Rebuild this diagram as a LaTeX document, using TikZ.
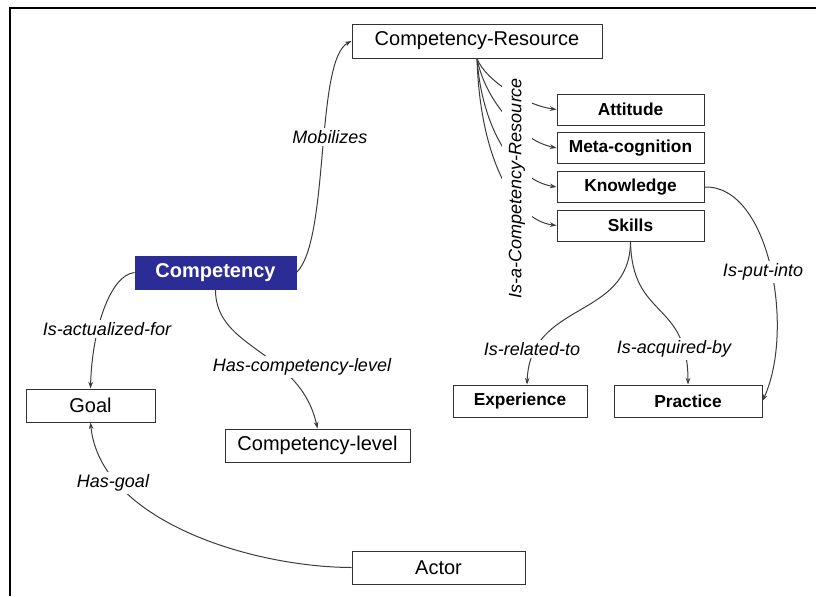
\documentclass[tikz,border=0pt]{standalone}
\usepackage{fontspec}
\setmainfont{Liberation Sans}
\usetikzlibrary{arrows.meta}
\definecolor{compblue}{RGB}{44,44,150}
\definecolor{edgegray}{RGB}{60,60,60}
\begin{document}
\begin{tikzpicture}[x=0.75pt,y=-0.75pt,
  box/.style={draw=black!80, line width=0.75pt, fill=white, inner sep=0pt, minimum height=24.75pt, font=\fontsize{15}{18}\selectfont},
  bbox/.style={box, minimum width=110.25pt, minimum height=23.25pt, font=\fontsize{13}{16}\selectfont\bfseries},
  lbl/.style={fill=white, inner sep=2pt, font=\fontsize{13.5}{16}\selectfont\itshape},
  conn/.style={draw=edgegray, line width=0.75pt, -{Stealth[length=5pt,width=3.5pt]}},
  plain/.style={draw=edgegray, line width=0.75pt}]
\useasboundingbox (0,0) rectangle (816,596);
\draw[line width=1.5pt] (10,596) -- (10,8) -- (816,8);

% nodes
\node[box, minimum width=187.5pt, minimum height=25.5pt] (cr) at (477,41) {Competency-Resource};
\node[bbox] (att) at (630.5,109.5) {Attitude};
\node[bbox] (meta) at (630.5,148) {Meta-cognition};
\node[bbox] (know) at (630.5,187) {Knowledge};
\node[bbox] (skills) at (630.5,225.5) {Skills};
\node[box, minimum width=120.75pt, fill=compblue, draw=compblue, text=white, font=\fontsize{15}{18}\selectfont\bfseries] (comp) at (215.5,272.5) {Competency};
\node[box, minimum width=96.75pt] (goal) at (90.5,405.5) {Goal};
\node[box, minimum width=138.75pt] (cl) at (317.5,445.5) {Competency-level};
\node[box, minimum width=129.75pt] (actor) at (438.5,567.5) {Actor};
\node[bbox, minimum width=100.5pt, minimum height=24pt] (exp) at (520,401) {Experience};
\node[bbox, minimum width=111pt, minimum height=24pt] (prac) at (688,401) {Practice};

% connectors
\draw[conn] (comp.east) .. controls (330,240) and (315,60) .. (cr.west);
\draw[conn] (cr.south) .. controls (485,80) and (525,105) .. (att.west);
\draw[conn] (cr.south) .. controls (485,100) and (520,140) .. (meta.west);
\draw[conn] (cr.south) .. controls (482,130) and (515,180) .. (know.west);
\draw[conn] (cr.south) .. controls (480,160) and (515,220) .. (skills.west);
\draw[conn] (comp.west) .. controls (110,275) and (92,330) .. (goal.north);
\draw[conn] (comp.south) .. controls (215,350) and (300,350) .. (cl.north);
\draw[conn] (actor.west) .. controls (250,567) and (100,520) .. (goal.south);
\draw[conn] (know.east) .. controls (770,185) and (795,330) .. (prac.east);
\draw[conn] (skills.south) .. controls (630,320) and (530,300) .. ([xshift=5.25pt]exp.north);
\draw[conn] (skills.south) .. controls (632,320) and (688,300) .. (prac.north);

% labels
\node[lbl] (lmob) at (330,137) {Mobilizes};
\node[lbl, rotate=90, inner xsep=2pt, inner ysep=5pt] (lisa) at (517,188) {Is-a-Competency-Resource};
\node[lbl] (lact) at (107,329) {Is-actualized-for};
\node[lbl] (lhcl) at (302,367) {Has-competency-level};
\node[lbl] (lgoal) at (113,483) {Has-goal};
\node[lbl] (lrel) at (532,349) {Is-related-to};
\node[lbl] (lacq) at (674,349) {Is-acquired-by};
\node[lbl] (lput) at (763,272) {Is-put-into};
\end{tikzpicture}
\end{document}
